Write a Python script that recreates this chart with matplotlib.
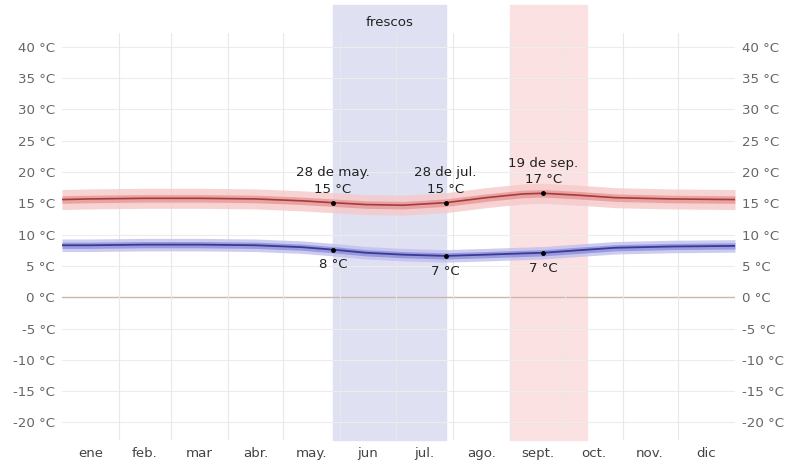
import numpy as np
import matplotlib.pyplot as plt

# day of year (0 = 1 ene) and daily mean high / low
days = [0, 15, 45, 75, 105, 130, 147, 165, 185, 208, 230, 250, 261, 280, 300, 330, 365]
high = [15.6, 15.7, 15.8, 15.8, 15.7, 15.4, 15.1, 14.8, 14.7, 15.1, 15.9, 16.5, 16.6, 16.3, 15.9, 15.7, 15.6]
low = [8.3, 8.3, 8.4, 8.4, 8.3, 8.0, 7.6, 7.1, 6.8, 6.6, 6.8, 7.0, 7.1, 7.5, 7.9, 8.1, 8.2]

month_starts = [0, 31, 59, 90, 120, 151, 181, 212, 243, 273, 304, 334, 365]
month_labels = ['ene', 'feb.', 'mar', 'abr.', 'may.', 'jun', 'jul.', 'ago.', 'sept.', 'oct.', 'nov.', 'dic']
y_ticks = list(range(-20, 45, 5))

cool_season = (147, 208)
warm_season = (243, 285)
# marked days: (day index, label)
marks = [(147, '28 de may.'), (208, '28 de jul.'), (261, '19 de sep.')]

FS = 9.6

fig = plt.figure(figsize=(7.88, 4.63), dpi=100)
ax = fig.add_axes([0.0787, 0.0497, 0.854, 0.879])
ax.set_xlim(0, 365)
ax.set_ylim(-22.8, 42.2)

# seasons, drawn a bit above the plot area
ax.axvspan(*cool_season, ymin=0, ymax=1.069, color='#dfe1f3', zorder=0, clip_on=False)
ax.axvspan(*warm_season, ymin=0, ymax=1.069, color='#fbe1e1', zorder=0, clip_on=False)
ax.text(sum(cool_season) / 2, 43.9, 'frescos', ha='center', va='center', fontsize=FS, color='#222222')

# grid
for y in y_ticks:
    ax.axhline(y, color='#efecec' if y != 0 else '#d0b4aa', lw=0.8 if y else 1.0, zorder=1)
for m in month_starts[1:-1]:
    ax.axvline(m, color='#e8e8e8', lw=0.8, zorder=1)

d = np.array(days)
h = np.array(high)
l = np.array(low)
ax.fill_between(d, h - 1.6, h + 1.6, color='#f6c8c8', alpha=0.8, lw=0, zorder=2)
ax.fill_between(d, h - 0.6, h + 0.6, color='#e58f8f', alpha=0.7, lw=0, zorder=2)
ax.plot(d, h, color='#a83a3a', lw=1.2, zorder=3)
ax.fill_between(d, l - 1.0, l + 1.0, color='#c0c0ee', alpha=0.8, lw=0, zorder=2)
ax.fill_between(d, l - 0.5, l + 0.5, color='#8585d6', alpha=0.7, lw=0, zorder=2)
ax.plot(d, l, color='#3a3a96', lw=1.3, zorder=3)

for day, lab in marks:
    hv = np.interp(day, d, h)
    lv = np.interp(day, d, l)
    ax.plot([day, day], [hv, lv], 'o', color='black', ms=2.5, zorder=4)
    ax.text(day, hv + 1.1, f'{lab}\n{round(hv)} °C', ha='center', va='bottom',
            fontsize=FS, color='#222222', linespacing=1.35, zorder=5)
    ax.text(day, lv - 1.4, f'{round(lv)} °C', ha='center', va='top',
            fontsize=FS, color='#222222', zorder=5)

# axes labels
ax.set_xticks([(a + b) / 2 for a, b in zip(month_starts[:-1], month_starts[1:])])
ax.set_xticklabels(month_labels, fontsize=FS, color='#444444')
ax.set_yticks(y_ticks)
ax.set_yticklabels([f'{y} °C' for y in y_ticks], fontsize=FS, color='#666666')
ax.tick_params(length=0, pad=5)
ax.tick_params(axis='x', pad=5)
ax.tick_params(axis='y', labelright=True)
for s in ax.spines.values():
    s.set_visible(False)

fig.savefig('out.png', dpi=100)
